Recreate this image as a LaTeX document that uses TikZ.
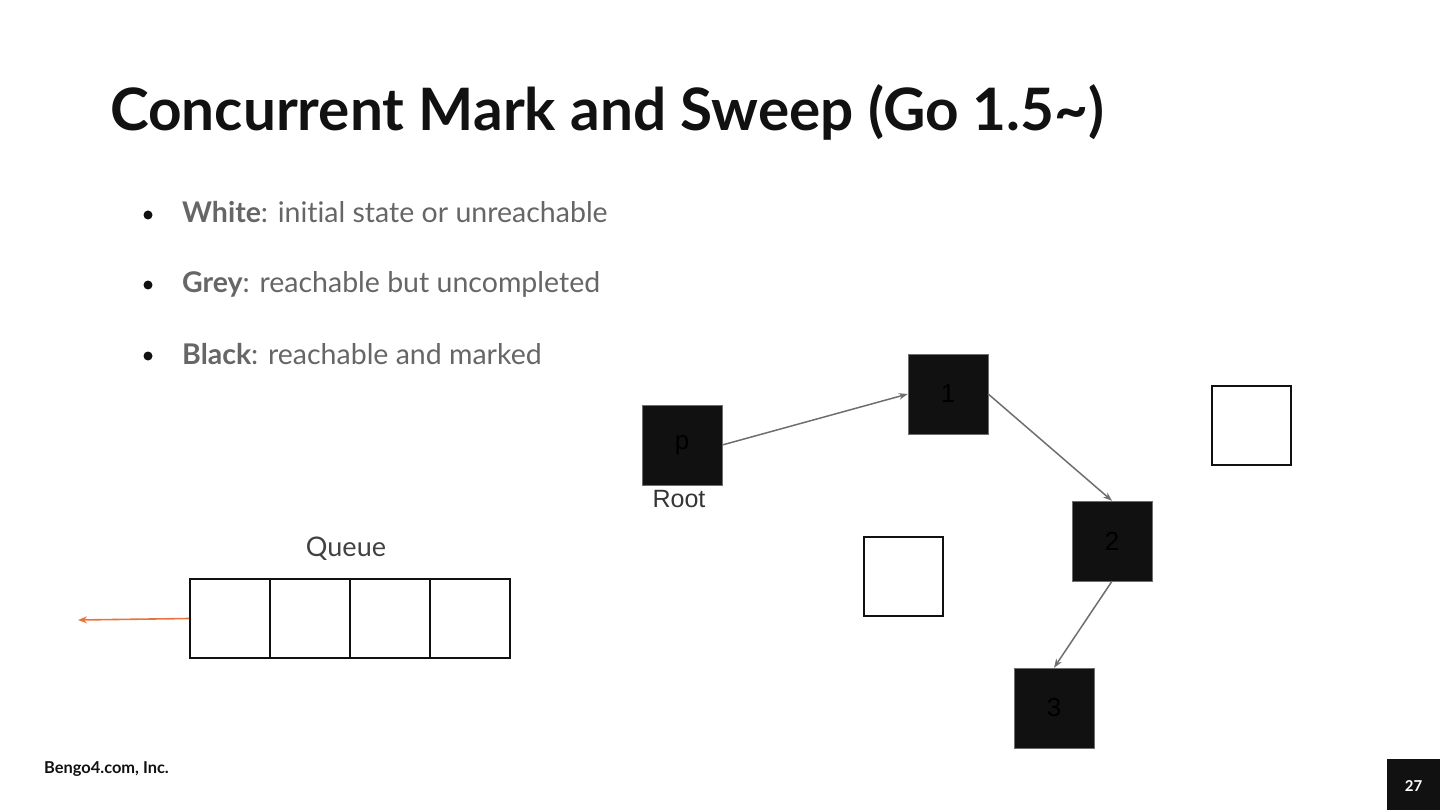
\documentclass[tikz,border=0pt]{standalone}
\usepackage{fontspec}
\setmainfont{Lato}[Ligatures=NoCommon]
\newfontfamily\arialfont{Liberation Sans}
\usetikzlibrary{arrows.meta}
\definecolor{inkblack}{HTML}{111111}
\definecolor{bodygrey}{HTML}{666666}
\definecolor{edgegrey}{HTML}{6E6E6E}
\definecolor{poporange}{HTML}{E8733F}
\begin{document}
\begin{tikzpicture}[x=1pt, y=-1pt,
    blackobj/.style={draw=edgegrey, fill=inkblack, minimum size=80pt, inner sep=0pt,
      font=\arialfont\fontsize{26}{30}\selectfont, text=black},
    whiteobj/.style={draw=inkblack, line width=1.6pt, fill=white, minimum size=79pt, inner sep=0pt},
    qcell/.style={draw=inkblack, line width=2pt, minimum width=80pt, minimum height=79pt, inner sep=0pt},
    ref/.style={draw=edgegrey, line width=1.5pt, -{Stealth[length=9pt, width=6.5pt]}},
    bullet/.style={anchor=base west, text=bodygrey, font=\fontsize{28.5}{34}\selectfont, inner sep=0pt}]
    \useasboundingbox (0,0) rectangle (1440,810);

    % title
    \node[anchor=base west, inner sep=0pt, text=inkblack, font=\fontsize{58.5}{70}\bfseries\selectfont]
      (title) at (110,131) {Concurrent Mark and Sweep (Go 1.5\char`~)};

    % bullets
    \foreach \y/\name/\desc in {223/White/initial state or unreachable,
                                293/Grey/reachable but uncompleted,
                                364/Black/reachable and marked}{
      \fill[inkblack] (148,\y-8) circle (4.5);
      \node[bullet] at (182,\y) {\textbf{\name}: \desc};
    }

    % object graph
    \node[blackobj] (p) at (682,445) {p};
    \node[anchor=north, inner sep=0pt, text=inkblack!85, font=\arialfont\fontsize{25}{30}\selectfont]
      (root) at (679,490) {Root};
    \node[blackobj] (o1) at (948,394) {1};
    \node[blackobj] (o2) at (1112,541) {2};
    \node[blackobj] (o3) at (1054,708) {3};
    \node[whiteobj] (w1) at (1251.5,425.5) {};
    \node[whiteobj] (w2) at (903.5,576.5) {};

    \draw[ref] (p.east) -- (o1.west);
    \draw[ref] (o1.east) -- (o2.north);
    \draw[ref] (o2.south) -- (o3.north);

    % queue
    \foreach \i in {1,...,4}
      \node[qcell] (q\i) at (150+80*\i,618.5) {};
    \node[text=inkblack!80, font=\fontsize{27}{32}\selectfont] (qlabel) at (346,549) {Queue};
    \coordinate (out) at (78,620);
    \draw[poporange, line width=1.6pt, -{Stealth[length=9pt, width=7pt]}] (q1.west) -- (out);

    % footer
    \node[anchor=base west, inner sep=0pt, text=inkblack, font=\fontsize{16.4}{19}\bfseries\selectfont]
      (corp) at (44,773) {Bengo4.com, Inc.};
    \fill[inkblack] (1387,759) rectangle (1440,810);
    \node[text=white, font=\fontsize{15}{18}\bfseries\selectfont] (page) at (1413.5,786) {27};
  \end{tikzpicture}
\end{document}
